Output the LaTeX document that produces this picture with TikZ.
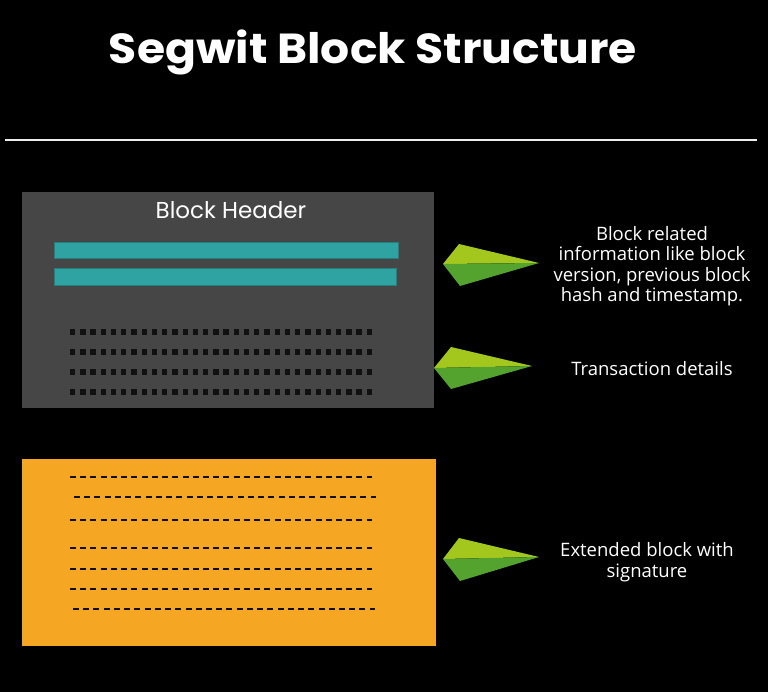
\documentclass[tikz,border=0pt]{standalone}
\usepackage{fontspec}
\setmainfont{Open Sans}
\newfontfamily\titlefont{Poppins}
\definecolor{bggray}{HTML}{464646}
\definecolor{tealbar}{HTML}{2EA3A2}
\definecolor{tealedge}{HTML}{237F80}
\definecolor{orangebox}{HTML}{F5A623}
\definecolor{lightgreen}{HTML}{A4C71E}
\definecolor{darkgreen}{HTML}{55A32F}
\definecolor{markink}{HTML}{111111}
\tikzset{
  dotrow/.style={markink, line width=5.3pt, dash pattern=on 5.3pt off 4.93pt},
  dashrow/.style={markink, line width=2.3pt, dash pattern=on 6pt off 4.23pt},
  bar/.style={fill=tealbar, draw=tealedge, line width=0.6pt},
  note/.style={white, align=center, inner sep=0pt, font=\fontsize{18.5}{20.5}\selectfont},
}
\begin{document}
\begin{tikzpicture}[x=1pt,y=-1pt]
\fill[black] (0,0) rectangle (768,692);
\useasboundingbox (0,0) rectangle (768,692);
% title
\node[white, font=\titlefont\bfseries\fontsize{42}{48}\selectfont, inner sep=0pt, anchor=base] (title) at (373,64) {\scalebox{1.087}[1]{Segwit Block Structure}};
\draw[white!93!black, line width=2pt] (5,140) -- (757,140);
% block header box
\fill[bggray] (22,192) rectangle (434,408);
\node[white, font=\titlefont\fontsize{23}{26}\selectfont, inner sep=0pt, anchor=base] (hdr) at (231,219) {Block Header};
\draw[bar] (54,242) rectangle (398,258);
\draw[bar] (54,268) rectangle (396,285);
\foreach \y in {332,352,372,392} \draw[dotrow] (70,\y) -- (372,\y);
% extended block
\fill[orangebox] (22,459) rectangle (436,646);
\draw[dashrow] (70,477) -- (372,477);
\draw[dashrow] (74,497) -- (376,497);
\draw[dashrow] (70,520) -- (372,520);
\draw[dashrow] (70,548) -- (372,548);
\draw[dashrow] (70,569) -- (372,569);
\draw[dashrow] (70,589) -- (372,589);
\draw[dashrow] (73,609) -- (375,609);
% kites
\foreach \lx/\ly/\tx/\ty/\rx/\ry/\bx/\by [count=\i] in {443/264/459/244/539/263/460/286, 434/368/451/347/532/366/451/389, 443/559/459/538/539/557/460/581}{
  \coordinate (L\i) at (\lx,\ly);
  \coordinate (T\i) at (\tx,\ty);
  \coordinate (R\i) at (\rx,\ry);
  \coordinate (B\i) at (\bx,\by);
  \fill[lightgreen] (L\i) -- (T\i) -- (R\i) -- cycle;
  \fill[darkgreen] (L\i) -- (R\i) -- (B\i) -- cycle;
}
% notes
\node[note, anchor=base] (n1) at (652,302) {Block related\\information like block\\version, previous block\\hash and timestamp.};
\node[note, anchor=base] (n2) at (652,375) {Transaction details};
\node[note, anchor=base] (n3) at (647,577) {Extended block with\\signature};
\end{tikzpicture}
\end{document}
